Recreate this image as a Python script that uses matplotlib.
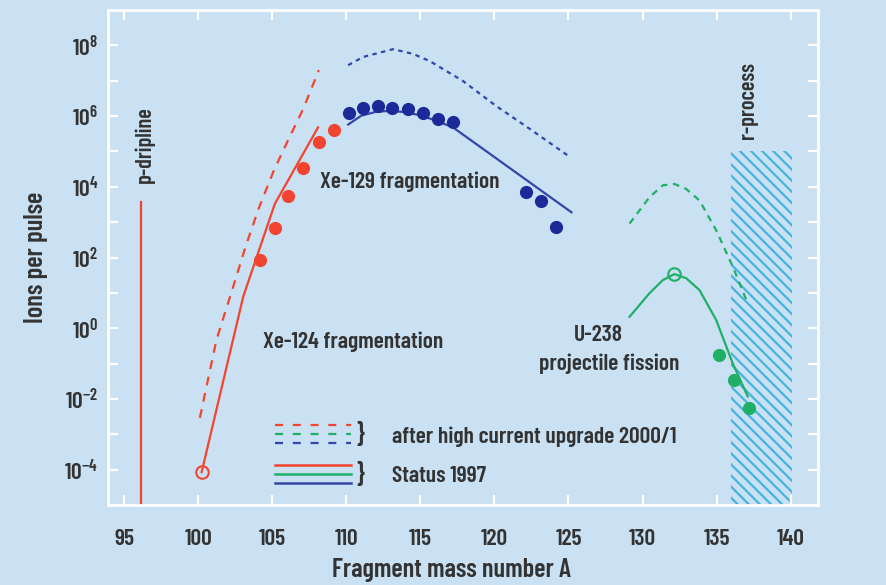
import matplotlib
matplotlib.use("Agg")
import matplotlib.pyplot as plt
from matplotlib import font_manager as fm
from matplotlib.ticker import FixedLocator, FixedFormatter, NullFormatter
from matplotlib.patches import Rectangle

# pick a condensed sans font (closest to the reference's narrow face)
installed = {(f.name, f.stretch) for f in fm.fontManager.ttflist}
FAM, STRETCH = 'DejaVu Sans', 'normal'
for fam in ['Barlow Condensed', 'Roboto Condensed', 'Asap Condensed', 'Archivo Narrow']:
    hits = [s for (n, s) in installed if n == fam]
    if hits:
        FAM, STRETCH = fam, hits[0]
        break

plt.rcParams['font.family'] = [FAM, 'DejaVu Sans']
plt.rcParams['font.stretch'] = STRETCH
plt.rcParams['font.weight'] = 600
plt.rcParams['axes.labelweight'] = 600
plt.rcParams['mathtext.fontset'] = 'custom'
plt.rcParams['mathtext.rm'] = FAM + ':semibold'
plt.rcParams['hatch.linewidth'] = 1.6

# ---------------- data ----------------
# Xe-124 fragmentation (red)
red_dots_x = [104.2, 105.2, 106.1, 107.1, 108.15, 109.2]
red_dots_y = [83, 680, 5.6e3, 3.5e4, 1.9e5, 4.1e5]
red_open_x = [100.24]
red_open_y = [8.5e-5]
red_solid_x = [100.24, 103.05, 105.18, 108.1]
red_solid_y = [8.5e-5, 7.9, 3.3e3, 4.8e5]
red_dash_x = [100.12, 101.24, 102.3, 103.2, 104.1, 105.1, 106.1, 107.1, 108.15]
red_dash_y = [2.9e-3, 0.47, 12, 200, 2.5e3, 2.8e4, 2.2e5, 1.6e6, 2.0e7]

# Xe-129 fragmentation (blue)
blue_dots_x = [110.2, 111.15, 112.15, 113.1, 114.15, 115.2, 116.2, 117.2, 122.15, 123.15, 124.15]
blue_dots_y = [1.26e6, 1.7e6, 1.95e6, 1.7e6, 1.6e6, 1.26e6, 8.3e5, 6.6e5, 7.1e3, 4.0e3, 7.2e2]
blue_solid_x = [110.13, 111.0, 112.0, 113.0, 114.0, 115.0, 116.0, 117.2, 125.2]
blue_solid_y = [5.75e5, 1.02e6, 1.32e6, 1.41e6, 1.29e6, 1.05e6, 7.6e5, 4.8e5, 1.9e3]
blue_dot_x = [110.13, 111.14, 113.16, 114.5, 115.63, 117.88, 120.1, 122.4, 124.97]
blue_dot_y = [2.75e7, 4.7e7, 7.8e7, 5.75e7, 3.6e7, 9.8e6, 1.95e6, 4.3e5, 7.6e4]

# U-238 projectile fission (green)
green_dots_x = [135.14, 136.15, 137.16]
green_dots_y = [0.18, 0.035, 5.6e-3]
green_open_x = [132.15]
green_open_y = [34]
green_solid_x = [129.12, 130.47, 131.37, 132.15, 132.94, 133.84, 134.97, 136.09, 137.1]
green_solid_y = [2.1, 9.8, 23, 34, 26, 12, 1.7, 0.10, 0.0117]
green_dash_x = [129.12, 130.47, 131.37, 132.15, 132.94, 133.84, 134.97, 136.09, 137.1]
green_dash_y = [910, 5.1e3, 1.1e4, 1.2e4, 8.7e3, 4.1e3, 590, 55, 5.0]

# p-dripline and r-process region
dripline_x = 96.15
dripline_top = 3.7e3
rproc_x0, rproc_x1 = 136.0, 140.1
rproc_top = 1e5

xticks = [95, 100, 105, 110, 115, 120, 125, 130, 135, 140]
yticks_major = [1e-4, 1e-2, 1e0, 1e2, 1e4, 1e6, 1e8]
ytick_labels = [r'$\mathregular{10^{-4}}$', r'$\mathregular{10^{-2}}$', r'$\mathregular{10^{0}}$',
                r'$\mathregular{10^{2}}$', r'$\mathregular{10^{4}}$', r'$\mathregular{10^{6}}$',
                r'$\mathregular{10^{8}}$']
yticks_minor = [1e-3, 1e-1, 1e1, 1e3, 1e5, 1e7]

# ---------------- style ----------------
BG = '#c9e1f3'
RED = '#f2452f'
BLUE_D = '#1c2a99'
BLUE_L = '#3545a8'
GREEN = '#1fb066'
CYAN = '#45b4e0'
TXT = '#333333'

fig = plt.figure(figsize=(8.87, 5.85), dpi=100, facecolor=BG)
ax = fig.add_axes([108/887, 1-505/585, 710/887, 495/585], facecolor=BG)
ax.set_yscale('log')
ax.set_xlim(93.92, 141.84)
ax.set_ylim(1e-5, 1e9)

ax.add_patch(Rectangle((rproc_x0, 1e-5), rproc_x1 - rproc_x0, rproc_top - 1e-5,
                       facecolor='none', edgecolor=CYAN, hatch='\\\\\\', linewidth=0, zorder=1))

ax.plot([dripline_x, dripline_x], [1e-5, dripline_top], color=RED, lw=1.6, zorder=2)

lw = 1.6
ax.plot(red_dash_x, red_dash_y, color=RED, lw=lw, ls=(0, (4, 3.5)), zorder=2)
ax.plot(red_solid_x, red_solid_y, color=RED, lw=lw, zorder=2)
ax.plot(red_dots_x, red_dots_y, 'o', color=RED, ms=9.5, mec='none', zorder=3)
ax.plot(red_open_x, red_open_y, 'o', mfc='none', mec=RED, ms=9, mew=1.5, zorder=3)

ax.plot(blue_dot_x, blue_dot_y, color=BLUE_L, lw=lw, ls=(0, (2, 2)), zorder=2)
ax.plot(blue_solid_x, blue_solid_y, color=BLUE_L, lw=lw, zorder=2)
ax.plot(blue_dots_x, blue_dots_y, 'o', color=BLUE_D, ms=9.5, mec='none', zorder=3)

ax.plot(green_dash_x, green_dash_y, color=GREEN, lw=lw, ls=(0, (3, 2.5)), zorder=2)
ax.plot(green_solid_x, green_solid_y, color=GREEN, lw=lw, zorder=2)
ax.plot(green_dots_x, green_dots_y, 'o', color=GREEN, ms=9.5, mec='none', zorder=3)
ax.plot(green_open_x, green_open_y, 'o', mfc='none', mec=GREEN, ms=9, mew=1.5, zorder=3)

for s in ax.spines.values():
    s.set_color('white')
    s.set_linewidth(2.0)

ax.xaxis.set_major_locator(FixedLocator(xticks))
ax.yaxis.set_major_locator(FixedLocator(yticks_major))
ax.yaxis.set_major_formatter(FixedFormatter(ytick_labels))
ax.yaxis.set_minor_locator(FixedLocator(yticks_minor))
ax.yaxis.set_minor_formatter(NullFormatter())
ax.xaxis.set_minor_locator(FixedLocator([]))

ax.tick_params(axis='both', which='both', direction='in', color='white', width=1.6,
               length=7, top=True, right=True, labelcolor=TXT, labelsize=17)
ax.tick_params(axis='x', pad=17)
ax.tick_params(axis='y', pad=7)

ax.set_xlabel('Fragment mass number A', fontsize=19, color=TXT, fontweight=600)
ax.xaxis.set_label_coords((452 - 108) / 710, -0.107)
ax.set_ylabel('Ions per pulse', fontsize=19, color=TXT, labelpad=12, fontweight=600)

ax.text(96.42, 10**5.19, 'p-dripline', rotation=90, ha='center', va='center', fontsize=16, color=TXT)
ax.text(137.14, 10**6.43, 'r-process', rotation=90, ha='center', va='center', fontsize=16, color=TXT)
ax.text(108.22, 10**4.13, 'Xe-129 fragmentation', ha='left', va='center', fontsize=17, color=TXT)
ax.text(104.4, 10**-0.38, 'Xe-124 fragmentation', ha='left', va='center', fontsize=17, color=TXT)
ax.text(127.03, 10**-0.19, 'U-238', ha='center', va='center', fontsize=17, color=TXT)
ax.text(127.74, 10**-1.0, 'projectile fission', ha='center', va='center', fontsize=17, color=TXT)

def fx(px):
    return (px - 108) / 710
def fy(py):
    return (505 - py) / 495

for py, col in zip([425, 434, 442.7], [RED, GREEN, BLUE_L]):
    ax.plot([fx(275), fx(351)], [fy(py), fy(py)], transform=ax.transAxes, color=col,
            lw=1.6, ls=(0, (3.6, 4.4)), clip_on=False)
for py, col in zip([465, 474, 482.7], [RED, GREEN, BLUE_L]):
    ax.plot([fx(275), fx(351)], [fy(py), fy(py)], transform=ax.transAxes, color=col,
            lw=1.8, clip_on=False)
ax.text(fx(356), fy(434), '}', transform=ax.transAxes, ha='left', va='center', fontsize=19, color=TXT)
ax.text(fx(356), fy(474), '}', transform=ax.transAxes, ha='left', va='center', fontsize=19, color=TXT)
ax.text(fx(392.5), fy(437), 'after high current upgrade 2000/1', transform=ax.transAxes,
        ha='left', va='center', fontsize=17, color=TXT)
ax.text(fx(392.5), fy(476.5), 'Status 1997', transform=ax.transAxes,
        ha='left', va='center', fontsize=17, color=TXT)

fig.savefig('out.png', dpi=100, facecolor=BG)
